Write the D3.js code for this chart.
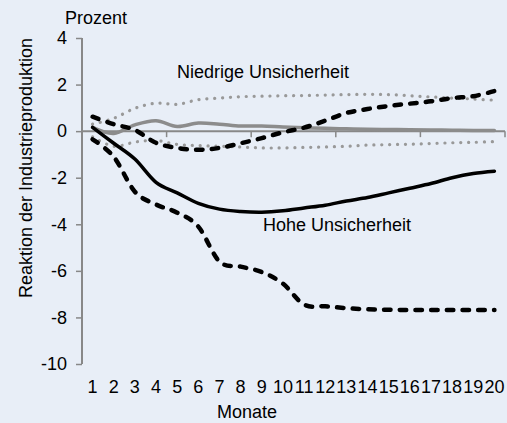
<!DOCTYPE html>
<html><head><meta charset="utf-8">
<script src="https://cdn.jsdelivr.net/npm/d3@7"></script>
<style>
html,body{margin:0;padding:0;background:#e8eef7;}
svg{display:block;font-family:"Liberation Sans",Arial,sans-serif;}
</style></head><body>
<svg id="c" width="507" height="423"></svg>
<script>
const months = d3.range(1, 21);
const xTickLabels = months.map(String);
const yTicks = [4, 2, 0, -2, -4, -6, -8, -10];
const lowMedian = [0.16,-0.1,0.27,0.45,0.2,0.35,0.3,0.22,0.22,0.18,0.15,0.12,0.1,0.08,0.07,0.06,0.05,0.04,0.03,0.03];
const lowUpper  = [0.3,0.55,0.98,1.2,1.15,1.35,1.42,1.48,1.5,1.52,1.53,1.55,1.57,1.58,1.57,1.52,1.47,1.42,1.38,1.33];
const lowLower  = [-0.25,-0.65,-0.47,-0.4,-0.57,-0.62,-0.65,-0.68,-0.72,-0.72,-0.7,-0.68,-0.65,-0.6,-0.58,-0.56,-0.53,-0.5,-0.48,-0.45];
const highMedian= [0.16,-0.52,-1.2,-2.2,-2.65,-3.1,-3.35,-3.45,-3.48,-3.42,-3.3,-3.18,-3.0,-2.85,-2.65,-2.45,-2.25,-2.0,-1.82,-1.72];
const highUpper = [0.62,0.3,0.05,-0.5,-0.72,-0.8,-0.72,-0.52,-0.3,-0.05,0.15,0.45,0.78,0.95,1.08,1.18,1.28,1.42,1.5,1.72];
const highLower = [-0.35,-1.1,-2.6,-3.15,-3.5,-4.1,-5.6,-5.82,-6.05,-6.55,-7.45,-7.52,-7.6,-7.65,-7.67,-7.68,-7.68,-7.68,-7.68,-7.68];

const svg = d3.select("#c");
const x = d3.scaleBand().domain(months).range([82, 505]);
const y = d3.scaleLinear().domain([-10, 4]).range([364, 38]);
const axisColor = "#888";
const fs = 18;

// y axis
const gy = svg.append("g").attr("transform", "translate(82,0)")
  .call(d3.axisLeft(y).tickValues(yTicks).tickSize(6).tickPadding(9).tickFormat(d => d));
gy.select(".domain").attr("stroke", axisColor).attr("stroke-width", 2).attr("d", `M0,${y(-10)}V${y(4)}`);
gy.selectAll(".tick line").attr("stroke", axisColor).attr("stroke-width", 1.5);
gy.selectAll(".tick text").attr("fill", "#000").style("font-size", fs + "px").style("font-family", "Liberation Sans, Arial, sans-serif");

// x axis at y=0
const y0 = y(0);
svg.append("line").attr("x1", 82).attr("x2", 505).attr("y1", y0).attr("y2", y0)
  .attr("stroke", axisColor).attr("stroke-width", 2);
const tickIdx = [0, 4, 8, 12, 16, 20];
svg.selectAll(".xt").data(tickIdx).enter().append("line")
  .attr("x1", d => 82 + d * x.step()).attr("x2", d => 82 + d * x.step())
  .attr("y1", y0).attr("y2", y0 + 6).attr("stroke", axisColor).attr("stroke-width", 1.5);
svg.selectAll(".xl").data(months).enter().append("text")
  .attr("x", d => x(d) + x.bandwidth() / 2).attr("y", 393)
  .attr("text-anchor", "middle").style("font-size", fs + "px").text((d, i) => xTickLabels[i]);

// lines
const line = d3.line().x((d, i) => x(months[i]) + x.bandwidth() / 2).y(d => y(d)).curve(d3.curveCardinal.tension(0));
function draw(data, color, width, dash) {
  const p = svg.append("path").datum(data).attr("d", line).attr("fill", "none")
    .attr("stroke", color).attr("stroke-width", width).attr("stroke-linecap", "round").attr("stroke-linejoin", "round");
  if (dash) p.attr("stroke-dasharray", dash);
}
draw(lowUpper, "#999", 3.2, "0.1 7.8");
draw(lowLower, "#999", 3.2, "0.1 7.8");
draw(lowMedian, "#8c8c8c", 3.5, null);
draw(highUpper, "#000", 4.5, "6.5 9.2");
draw(highLower, "#000", 4.5, "6.5 9.2");
draw(highMedian, "#000", 3.5, null);

// texts
svg.append("text").attr("x", 65).attr("y", 24).style("font-size", fs + "px").text("Prozent");
svg.append("text").attr("x", 177).attr("y", 78).style("font-size", fs + "px").text("Niedrige Unsicherheit");
svg.append("text").attr("x", 263).attr("y", 231).style("font-size", fs + "px").text("Hohe Unsicherheit");
svg.append("text").attr("x", 247).attr("y", 418).attr("text-anchor", "middle").style("font-size", fs + "px").text("Monate");
svg.append("text").attr("transform", "translate(32,168) rotate(-90)").attr("text-anchor", "middle")
  .style("font-size", fs + "px").text("Reaktion der Industrieproduktion");
</script>
</body></html>
